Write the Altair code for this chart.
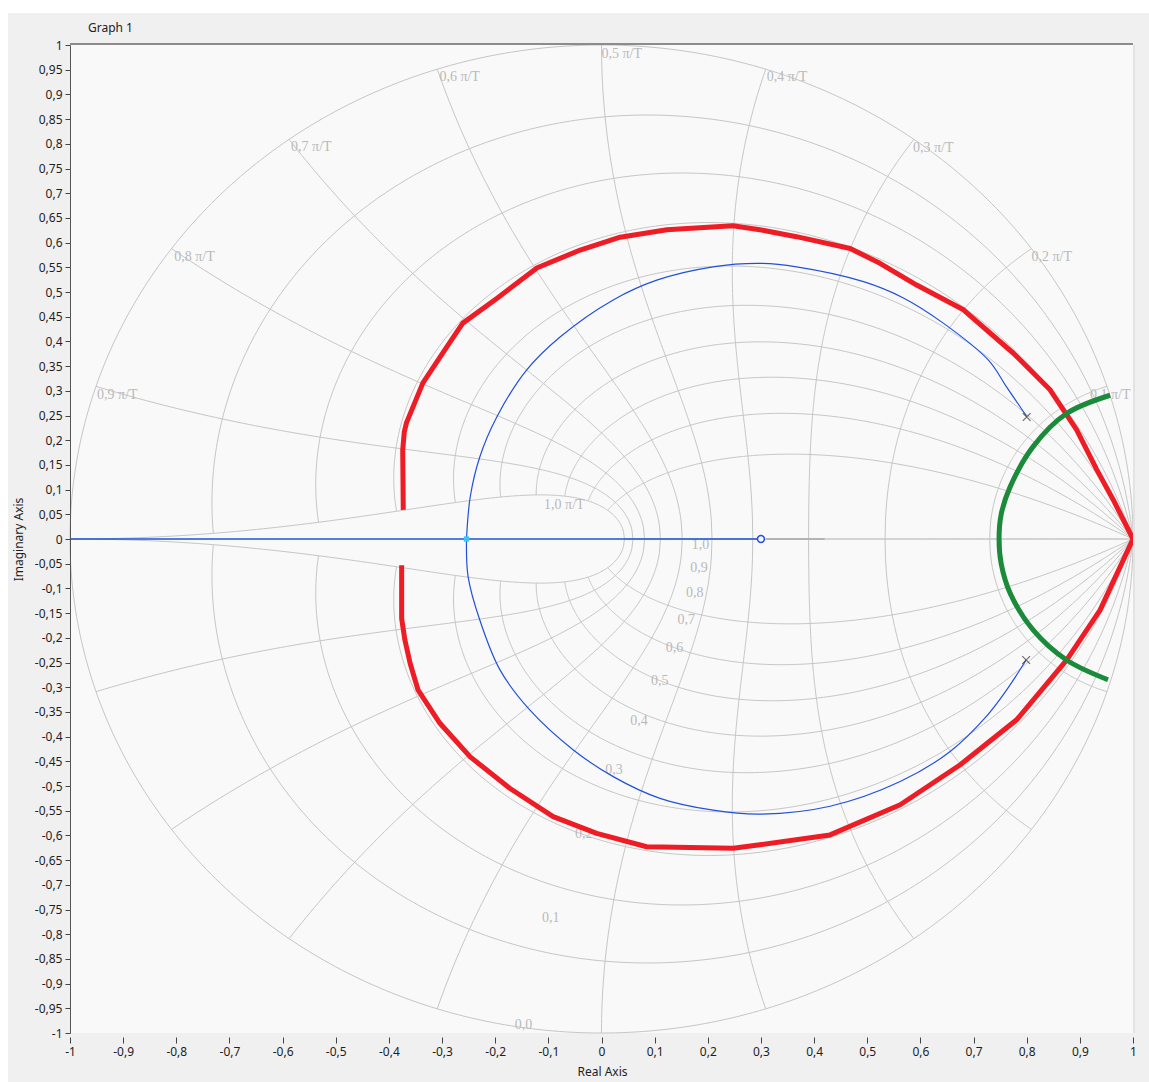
import numpy as np
import pandas as pd
import altair as alt

# ---------------------------------------------------------------- layout
PLOT_W, PLOT_H = 1063, 988
PAD = {"left": 70, "top": 45, "right": 16, "bottom": 49}
UI_FONT = "Noto Sans"
GRID_FONT = "Liberation Serif"

# ---------------------------------------------------------------- root locus traces (real, imaginary)
red_upper_re = [-0.373, -0.374, -0.371, -0.367, -0.336, -0.291, -0.261, -0.197, -0.121, -0.040,
                0.035, 0.123, 0.247, 0.298, 0.367, 0.468, 0.524, 0.593, 0.681, 0.775,
                0.844, 0.894, 0.932, 0.963, 1.000]
red_upper_im = [0.059, 0.180, 0.217, 0.235, 0.316, 0.389, 0.437, 0.487, 0.549, 0.585,
                0.611, 0.626, 0.634, 0.626, 0.612, 0.588, 0.558, 0.514, 0.464, 0.376,
                0.302, 0.221, 0.140, 0.079, 0.000]

red_lower_re = [-0.376, -0.376, -0.370, -0.360, -0.345, -0.304, -0.247, -0.172, -0.091, -0.009,
                0.085, 0.248, 0.298, 0.430, 0.562, 0.675, 0.781, 0.875, 0.938, 1.000]
red_lower_im = [-0.053, -0.161, -0.204, -0.252, -0.306, -0.373, -0.441, -0.505, -0.562, -0.596,
                -0.623, -0.626, -0.619, -0.599, -0.538, -0.457, -0.366, -0.245, -0.144, 0.000]

blue_upper_re = [-0.254, -0.247, -0.229, -0.197, -0.141, -0.078, 0.022, 0.104, 0.210, 0.298,
                 0.367, 0.493, 0.568, 0.643, 0.728, 0.762, 0.800]
blue_upper_im = [0.000, 0.085, 0.166, 0.247, 0.342, 0.409, 0.484, 0.524, 0.551, 0.558,
                 0.551, 0.521, 0.488, 0.437, 0.362, 0.308, 0.248]

blue_lower_re = [-0.254, -0.251, -0.229, -0.191, -0.135, -0.053, 0.022, 0.110, 0.210, 0.298,
                 0.430, 0.562, 0.656, 0.725, 0.762, 0.799]
blue_lower_im = [0.000, -0.076, -0.164, -0.265, -0.346, -0.427, -0.481, -0.525, -0.549, -0.557,
                 -0.541, -0.491, -0.430, -0.358, -0.306, -0.245]

blue_axis_re = [-1.0, 0.3]
blue_axis_im = [0.0, 0.0]

gray_axis_re = [0.31, 0.42]
gray_axis_im = [0.0, 0.0]

green_re = [0.957, 0.875, 0.812, 0.769, 0.752, 0.748, 0.752, 0.769, 0.812, 0.875, 0.953]
green_im = [0.291, 0.254, 0.187, 0.106, 0.050, 0.000, -0.050, -0.110, -0.184, -0.245, -0.285]

poles_re = [0.800, 0.799]
poles_im = [0.247, -0.245]
zero_re = [0.300]
zero_im = [0.000]
breakin_re = [-0.254]
breakin_im = [0.000]

# ---------------------------------------------------------------- z-plane grid
zeta_values = [0.0, 0.1, 0.2, 0.3, 0.4, 0.5, 0.6, 0.7, 0.8, 0.9, 1.0]
wn_values = [0.1, 0.2, 0.3, 0.4, 0.5, 0.6, 0.7, 0.8, 0.9, 1.0]   # in units of pi/T

wn_label_text = ["0,1 π/T", "0,2 π/T", "0,3 π/T", "0,4 π/T", "0,5 π/T",
                 "0,6 π/T", "0,7 π/T", "0,8 π/T", "0,9 π/T", "1,0 π/T"]
wn_label_re = [0.919, 0.809, 0.586, 0.311, 0.000, -0.305, -0.584, -0.804, -0.949, -0.108]
wn_label_im = [0.291, 0.571, 0.791, 0.935, 0.982, 0.935, 0.794, 0.571, 0.291, 0.069]

zeta_label_text = ["1,0", "0,9", "0,8", "0,7", "0,6", "0,5", "0,4", "0,3", "0,2", "0,1", "0,0"]
zeta_label_re = [0.170, 0.167, 0.159, 0.143, 0.121, 0.093, 0.054, 0.007, -0.050, -0.112, -0.163]
zeta_label_im = [-0.012, -0.058, -0.109, -0.163, -0.221, -0.287, -0.368, -0.468, -0.597, -0.767, -0.984]

x_ticks = [round(-1 + 0.1 * k, 2) for k in range(21)]
y_ticks = [round(-1 + 0.05 * k, 2) for k in range(41)]


def grid_table():
    rows = []
    # constant damping-ratio curves, z = exp(wT(-zeta + j sqrt(1-zeta^2))), wT in [0, pi]
    for zeta in zeta_values:
        w = np.linspace(0.0, np.pi, 241)
        z = np.exp(w * (-zeta + 1j * np.sqrt(max(0.0, 1 - zeta ** 2))))
        for sign in (1, -1):
            name = f"zeta {zeta} {sign}"
            for i, p in enumerate(z):
                rows.append({"curve": name, "i": i, "re": p.real, "im": sign * p.imag})
    # constant natural-frequency curves, zeta in [0, 1]
    for wn in wn_values:
        zeta = np.linspace(0.0, 1.0, 161)
        z = np.exp(np.pi * wn * (-zeta + 1j * np.sqrt(1 - zeta ** 2)))
        for sign in (1, -1):
            name = f"wn {wn} {sign}"
            for i, p in enumerate(z):
                rows.append({"curve": name, "i": i, "re": p.real, "im": sign * p.imag})
    return pd.DataFrame(rows)


def trace(re, im):
    return pd.DataFrame({"re": re, "im": im, "i": list(range(len(re)))})


label_expr = "replace(replace(format(datum.value, '.2~f'), '.', ','), '\u2212', '-')"

X = alt.X(
    "re:Q",
    scale=alt.Scale(domain=[-1, 1], nice=False, zero=False),
    axis=alt.Axis(
        values=x_ticks, labelExpr=label_expr, grid=False, domain=False,
        ticks=True, tickSize=6, tickColor="#444444", tickWidth=1, offset=4,
        labelPadding=3, labelFont=UI_FONT, labelFontSize=12, labelColor="#1e1e1e",
        labelFlush=False, labelOverlap=False,
        title="Real Axis", titleFont=UI_FONT, titleFontSize=12, titleFontWeight="normal",
        titleColor="#1e1e1e", titleX=532, titleY=34, titleBaseline="middle",
        titleAlign="center", zindex=1,
    ),
)
Y = alt.Y(
    "im:Q",
    scale=alt.Scale(domain=[-1, 1], nice=False, zero=False),
    axis=alt.Axis(
        values=y_ticks, labelExpr=label_expr, grid=False, domain=True,
        domainColor="#555555", domainWidth=1,
        ticks=True, tickSize=5, tickColor="#444444", tickWidth=1,
        labelPadding=3, labelFont=UI_FONT, labelFontSize=12, labelColor="#1e1e1e",
        labelFlush=False, labelOverlap=False,
        title="Imaginary Axis", titleFont=UI_FONT, titleFontSize=12, titleFontWeight="normal",
        titleColor="#1e1e1e", titleX=-52, titleY=494, titleAngle=-90,
        titleAlign="center", titleBaseline="middle", zindex=1,
    ),
)

one_row = alt.Data(values=[{"k": 0}])

panel = alt.Chart(one_row).mark_rect(color="#f0f0f0").encode(
    x=alt.value(-62), x2=alt.value(1079), y=alt.value(-32), y2=alt.value(1037)
)
plot_bg = alt.Chart(one_row).mark_rect(color="#f9f9f9").encode(
    x=alt.value(0), x2=alt.value(PLOT_W), y=alt.value(0), y2=alt.value(PLOT_H)
)
top_border = alt.Chart(one_row).mark_rule(color="#8c8c8c", strokeWidth=2).encode(
    x=alt.value(0), x2=alt.value(PLOT_W), y=alt.value(-1)
)
right_border = alt.Chart(one_row).mark_rule(color="#e3e3e3", strokeWidth=2).encode(
    x=alt.value(PLOT_W + 1), y=alt.value(0), y2=alt.value(PLOT_H)
)
title = alt.Chart(one_row).mark_text(
    text="Graph 1", font=UI_FONT, fontSize=12, color="#222222", align="left", baseline="middle"
).encode(x=alt.value(18), y=alt.value(-17))

grid = alt.Chart(grid_table()).mark_line(color="#c6c6c6", strokeWidth=1).encode(
    x=X, y=Y, detail="curve:N", order="i:Q"
)

labels_df = pd.DataFrame({
    "re": wn_label_re + zeta_label_re,
    "im": wn_label_im + zeta_label_im,
    "txt": wn_label_text + zeta_label_text,
})
grid_labels = alt.Chart(labels_df).mark_text(
    font=GRID_FONT, fontSize=14, color="#b9b9b9", align="left", baseline="middle"
).encode(x=X, y=Y, text="txt:N")


def line(re, im, color, width, interp="linear"):
    return alt.Chart(trace(re, im)).mark_line(
        color=color, strokeWidth=width, interpolate=interp, strokeJoin="round"
    ).encode(x=X, y=Y, order="i:Q")


BLUE = "#2150dc"
gray_seg = line(gray_axis_re, gray_axis_im, "#b4b4b4", 2)
blue_axis = line(blue_axis_re, blue_axis_im, BLUE, 1.3)
blue_up = line(blue_upper_re, blue_upper_im, BLUE, 1.2, "catmull-rom")
blue_low = line(blue_lower_re, blue_lower_im, BLUE, 1.2, "catmull-rom")
red_up = line(red_upper_re, red_upper_im, "#ee1c25", 5)
red_low = line(red_lower_re, red_lower_im, "#ee1c25", 5)
green = line(green_re, green_im, "#1b8b3b", 5, "catmull-rom")

poles = alt.Chart(trace(poles_re, poles_im)).mark_point(
    shape="M-1,-1L1,1M-1,1L1,-1", size=60, stroke="#333333", strokeWidth=1.2, filled=False
).encode(x=X, y=Y)
zeros = alt.Chart(trace(zero_re, zero_im)).mark_point(
    shape="circle", size=48, filled=True, fill="#f9f9f9", stroke=BLUE, strokeWidth=1.5, opacity=1
).encode(x=X, y=Y)
breakin = alt.Chart(trace(breakin_re, breakin_im)).mark_point(
    shape="square", size=28, filled=True, color="#3cc3f5", opacity=1
).encode(x=X, y=Y)

chart = alt.layer(
    panel, plot_bg, grid, grid_labels, gray_seg, blue_axis, blue_up, blue_low,
    red_up, red_low, green, poles, zeros, breakin, top_border, right_border, title,
).properties(
    width=PLOT_W, height=PLOT_H,
    autosize=alt.AutoSizeParams(type="none"),
    padding=PAD, background="#ffffff",
).configure_view(strokeWidth=0)

chart.save("out.html", embed_options={"renderer": "svg", "actions": False})
